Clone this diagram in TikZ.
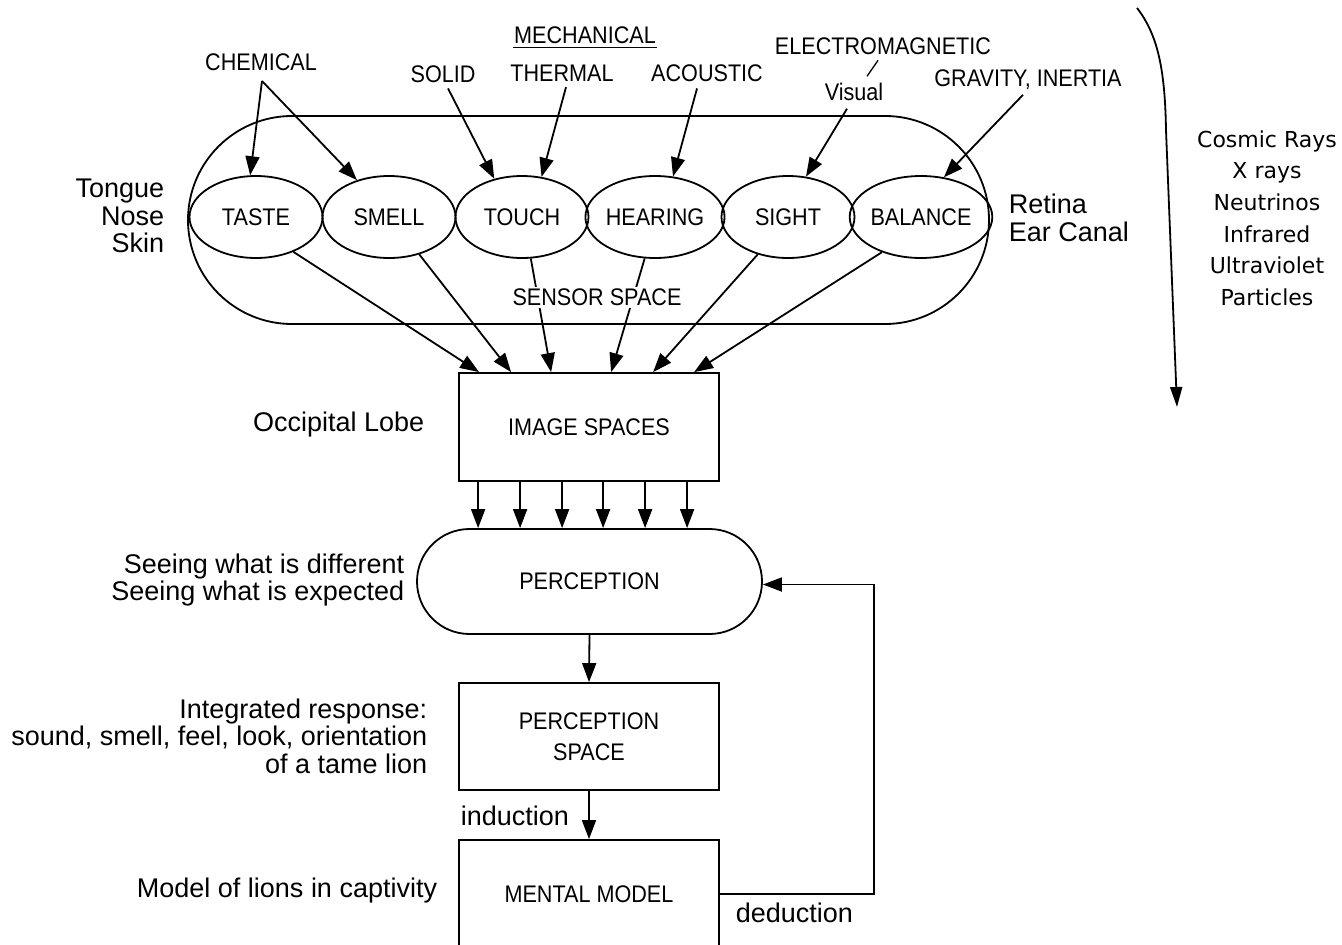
\documentclass[tikz,border=0pt]{standalone}
\usepackage{fontspec}
\setmainfont{Liberation Sans}
\newfontfamily\capsfont[FakeStretch=0.9]{Liberation Sans}
\newfontfamily\raysfont{DejaVu Sans}
\usetikzlibrary{arrows.meta,shapes.geometric,shapes.misc}
\begin{document}
\begin{tikzpicture}[x=1pt,y=-1pt,line width=1.8pt,
  arr/.style={-{Triangle[length=19pt,width=14pt]}},
  capslbl/.style={font=\capsfont\fontsize{24}{31}\selectfont,inner sep=0pt},
  sidelbl/.style={font=\fontsize{27}{27.5}\selectfont,inner sep=0pt},
  sense/.style={draw,ellipse,minimum width=133pt,minimum height=82pt,inner sep=0pt,capslbl},
  stage/.style={draw,minimum width=260pt,inner sep=0pt,capslbl,align=center}]
\useasboundingbox (0,0) rectangle (1342,945);
\clip (0,0) rectangle (1342,945);

% sensor space enclosure and the six senses
\node[draw,rounded rectangle,minimum width=801pt,minimum height=208pt,inner sep=0pt] (sensor) at (588.5,220) {};
\node[sense] (taste)   at (256,217) {TASTE};
\node[sense] (smell)   at (389,217) {SMELL};
\node[sense] (touch)   at (522,217) {TOUCH};
\node[sense] (hearing) at (655,217) {HEARING};
\node[sense] (sight)   at (788,217) {SIGHT};
\node[sense] (balance) at (921,217) {BALANCE};

% stimulus labels
\node[capslbl] (chem)    at (261,62.5) {CHEMICAL};
\node[capslbl] (mech)    at (585,35) {MECHANICAL};
\node[capslbl] (solid)   at (443,74) {SOLID};
\node[capslbl] (thermal) at (562,73) {THERMAL};
\node[capslbl] (acoustic) at (707,73) {ACOUSTIC};
\node[capslbl] (em)      at (883,46) {ELECTROMAGNETIC};
\node[capslbl] (visual)  at (854,92) {Visual};
\node[capslbl] (grav)    at (1028,80) {GRAVITY, INERTIA};
\draw[line width=1.3pt] ([yshift=-3pt]mech.south west) -- ([yshift=-3pt]mech.south east);
\draw[line width=1.3pt] ([xshift=-5pt,yshift=-5pt]em.south) -- ([xshift=13pt,yshift=6pt]visual.north);

\coordinate (chemapex) at (262,81);
\draw[arr] (chemapex) -- (taste.98);
\draw[arr] (chemapex) -- (smell.131.6);
\draw[arr] ([xshift=5pt,yshift=-5pt]solid.south) -- (touch.126);
\draw[arr] ([xshift=4pt,yshift=-5pt]thermal.south) -- (touch.64);
\draw[arr] ([xshift=-10pt,yshift=-6pt]acoustic.south) -- (hearing.66.8);
\draw[arr] ([xshift=-7pt,yshift=-7pt]visual.south) -- (sight.66.8);
\draw[arr] ([xshift=-5pt,yshift=-4pt]grav.south) -- (balance.60.4);

% side notes
\node[sidelbl,align=right,anchor=east] (organs) at (165,216) {Tongue\\Nose\\Skin};
\node[sidelbl,align=left,anchor=west] (organs2) at (1008,218) {Retina\\Ear Canal};
\node[font=\raysfont\fontsize{22}{31.6}\selectfont,inner sep=0pt,align=center] (rays) at (1267,218) {Cosmic Rays\\X rays\\Neutrinos\\Infrared\\Ultraviolet\\Particles};
\coordinate (raystart) at (1137,8);
\coordinate (rayend) at (1177,407);
\draw[-{Triangle[length=20pt,width=12pt]}] (raystart) .. controls (1158,35) and (1165,70) .. (1166,130) -- (rayend);

% processing stages
\node[stage,minimum height=108pt] (img) at (589,427) {IMAGE SPACES};
\node[draw,rounded rectangle,minimum width=345pt,minimum height=105pt,inner sep=0pt,capslbl] (perc) at (589.5,581.5) {PERCEPTION};
\node[stage,minimum height=107pt] (pspace) at (589,736.5) {PERCEPTION\\SPACE};
\node[stage,minimum height=108pt] (mental) at (589,894) {MENTAL MODEL};

% senses feed the image spaces
\draw[arr] (taste.-43.4)   -- ([xshift=21pt]img.north west);
\draw[arr] (smell.-51)     -- ([xshift=53pt]img.north west);
\draw[arr] (touch.-78)     -- ([xshift=93pt]img.north west);
\draw[arr] (hearing.-104)  -- ([xshift=153pt]img.north west);
\draw[arr] (sight.-129)    -- ([xshift=195pt]img.north west);
\draw[arr] (balance.-138)  -- ([xshift=236pt]img.north west);
\node[capslbl,fill=white,inner sep=2pt] (sslabel) at (597,297) {SENSOR SPACE};

\foreach \dx in {20,62,104,145,187,229}
  \draw[arr] ([xshift=\dx pt]img.south west) -- ([xshift=\dx pt]img.south west |- perc.north);
\draw[arr] (perc.south) -- (pspace.north);
\draw[arr] (pspace.south) -- (mental.north);
\draw[arr] (mental.east) -- ++(154,0) |- ([yshift=-3pt]perc.east);

\node[sidelbl,anchor=west] (induct) at (460,816) {induction};
\node[sidelbl,anchor=west] (deduct) at (735,913) {deduction};
\node[sidelbl,anchor=east] (occ) at (425,425) {Occipital Lobe};
\node[sidelbl,align=right,anchor=east] (seeing) at (405,580) {Seeing what is different\\Seeing what is expected};
\node[sidelbl,align=right,anchor=east] (integ) at (428,736) {Integrated response:\\sound, smell, feel, look, orientation\\of a tame lion};
\node[sidelbl,anchor=east] (lions) at (438,891) {Model of lions in captivity};
\end{tikzpicture}
\end{document}
